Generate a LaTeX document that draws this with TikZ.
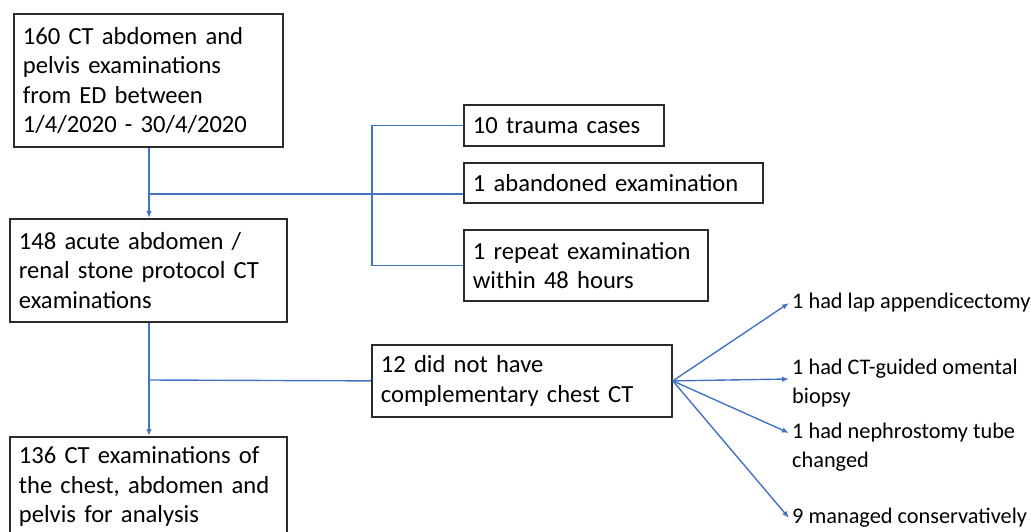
\documentclass[tikz,border=0pt]{standalone}
\usepackage{fontspec}
\setmainfont{Carlito}
\usetikzlibrary{arrows.meta}
\definecolor{fcblau}{HTML}{4472C4}
\definecolor{fcrand}{HTML}{2B2B2B}
\newcommand{\fcbox}{\fontsize{24.6}{29.5}\selectfont}
\newcommand{\fclab}{\fontsize{22.3}{29.5}\selectfont}
\tikzset{
  fcnode/.style={draw=fcrand,line width=1.8,anchor=north west,inner xsep=9,inner ysep=0,align=left,font=\fcbox},
  fclinie/.style={fcblau,line width=1.4},
  fcpfeil/.style={fclinie,-{Latex[length=7,width=5.5]}},
  fctext/.style={anchor=west,inner sep=3,align=left,font=\fclab}
}

\begin{document}
\begin{tikzpicture}[x=1pt,y=-1pt]
\useasboundingbox (0,0) rectangle (1031,532);
\node[fcnode,text width=251,minimum height=133] (b160) at (13,13) {160 CT abdomen and\\pelvis examinations\\from ED between\\1/4/2020 - 30/4/2020};
\node[fcnode,text width=259,minimum height=103] (b148) at (9,218) {148 acute abdomen /\\renal stone protocol CT\\examinations};
\node[fcnode,text width=259,minimum height=100] (b136) at (9,436) {136 CT examinations of\\the chest, abdomen and\\pelvis for analysis};
\node[fcnode,text width=182,minimum height=41] (b10) at (463,104) {10 trauma cases};
\node[fcnode,text width=281,minimum height=40] (bab) at (463,162) {1 abandoned examination};
\node[fcnode,text width=226,minimum height=71] (brep) at (463,229) {1 repeat examination\\within 48 hours};
\node[fcnode,text width=282,minimum height=72] (b12) at (371,344) {12 did not have\\complementary chest CT};
\node[fctext] (r1) at (789,303) {1 had lap appendicectomy};
\node[fctext] (r2) at (789,383) {1 had CT-guided omental\\biopsy};
\node[fctext] (r3) at (789,447) {1 had nephrostomy tube\\changed};
\node[fctext] (r4) at (789,518) {9 managed conservatively};
\coordinate (j1) at (149,194);
\coordinate (k1) at (372,194);
\coordinate (j2) at (149,380);
\draw[fcpfeil] (b160.south -| j1) -- (b148.north -| j1);
\draw[fclinie] (j1) -- (j1 -| bab.west);
\draw[fclinie] (b10.west) -| (k1) |- (brep.west);
\draw[fcpfeil] (b148.south -| j2) -- (b136.north -| j2);
\draw[fclinie] (j2) -- (b12.west);
\draw[fcpfeil] (b12.east) -- (r1.west);
\draw[fcpfeil] (b12.east) -- ([yshift=4]r2.west);
\draw[fcpfeil] (b12.east) -- ([yshift=14]r3.west);
\draw[fcpfeil] (b12.east) -- (r4.west);
\end{tikzpicture}
\end{document}
